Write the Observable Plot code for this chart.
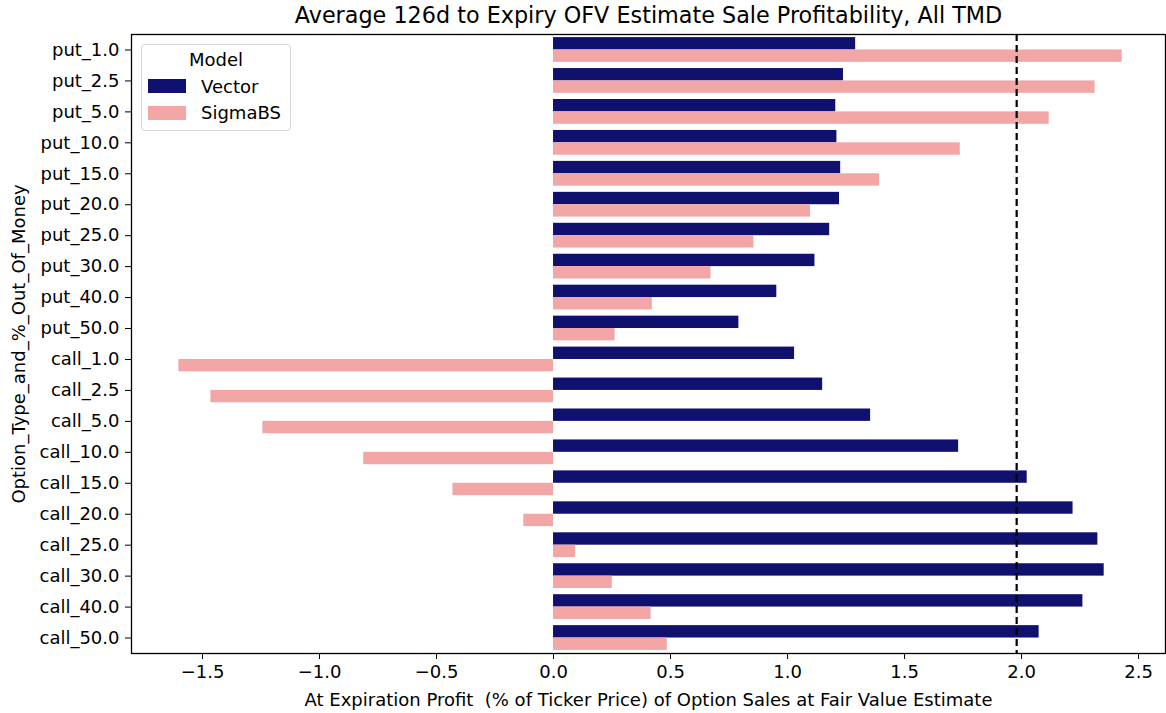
<!DOCTYPE html>
<html>
<head>
<meta charset="utf-8">
<script src="https://cdn.jsdelivr.net/npm/d3@7"></script>
<script src="https://cdn.jsdelivr.net/npm/@observablehq/plot@0.6"></script>
<style>
  html, body { margin: 0; padding: 0; background: #fff; }
  #wrap { position: relative; width: 1166px; height: 713px; font-family: "DejaVu Sans", sans-serif; }
  #legend { position: absolute; left: 141px; top: 44px; width: 150px; height: 87px; border: 1px solid #d6d6d6; border-radius: 4px; background: rgba(255,255,255,0.8); box-sizing: border-box; font-size: 18px; line-height: 21px; color: #000; }
  #legend .t { position: absolute; left: 0; width: 100%; text-align: center; top: 4px; }
  #legend .sw { position: absolute; left: 6px; width: 38px; height: 13.5px; }
  #legend .lb { position: absolute; left: 59px; }
</style>
</head>
<body>
<div id="wrap"></div>
<script>
const categories = ["put_1.0","put_2.5","put_5.0","put_10.0","put_15.0","put_20.0","put_25.0","put_30.0","put_40.0","put_50.0",
  "call_1.0","call_2.5","call_5.0","call_10.0","call_15.0","call_20.0","call_25.0","call_30.0","call_40.0","call_50.0"];
const vectorValues = [1.291,1.239,1.206,1.211,1.227,1.222,1.180,1.117,0.954,0.792,
  1.030,1.150,1.355,1.731,2.024,2.220,2.326,2.353,2.262,2.075];
const sigmaBSValues = [2.430,2.314,2.118,1.738,1.393,1.098,0.856,0.673,0.422,0.263,
  -1.601,-1.464,-1.242,-0.811,-0.430,-0.127,0.094,0.251,0.417,0.486];
const models = ["Vector","SigmaBS"];
const modelColors = ["#10106e","#f2a6a6"];
const xTicks = [-1.5,-1.0,-0.5,0.0,0.5,1.0,1.5,2.0,2.5];
const referenceLine = [1.979];
const title = "Average 126d to Expiry OFV Estimate Sale Profitability, All TMD";
const xLabel = "At Expiration Profit  (% of Ticker Price) of Option Sales at Fair Value Estimate";
const yLabel = "Option_Type_and_%_Out_Of_Money";

const W = 1166, H = 713, mT = 34, mB = 60, mL = 131, mR = 1;
const step = (H - mT - mB) / categories.length;
const half = step * 0.8 / 2;

const rows = categories.map((c, i) => ({category: c, Vector: vectorValues[i], SigmaBS: sigmaBSValues[i]}));

const chart = Plot.plot({
  width: W, height: H,
  marginTop: mT, marginBottom: mB, marginLeft: mL, marginRight: mR,
  style: {fontFamily: "DejaVu Sans, sans-serif", fontSize: "18px", color: "#000", background: "#fff"},
  x: {domain: [-1.8034, 2.615], ticks: xTicks, tickFormat: d3.format(".1f")},
  y: {domain: categories, paddingInner: 0.2, paddingOuter: 0.1, round: false},
  color: {domain: models, range: modelColors},
  marks: [
    Plot.barX(rows, {y: "category", x: "Vector", fill: modelColors[0], insetBottom: half, insetTop: 0}),
    Plot.barX(rows, {y: "category", x: "SigmaBS", fill: modelColors[1], insetTop: half, insetBottom: 0}),
    Plot.ruleX(referenceLine, {stroke: "#000", strokeWidth: 2.2, strokeDasharray: "7,4"}),
    Plot.frame({stroke: "#000", strokeWidth: 1.3}),
    Plot.axisX({ticks: xTicks, tickFormat: d3.format(".1f"), tickSize: 6, tickPadding: 6, fontSize: 18,
      label: xLabel, labelAnchor: "center", labelOffset: 52, labelArrow: "none"}),
    Plot.axisY({tickSize: 6, tickPadding: 6, fontSize: 18, label: null}),
    Plot.text([yLabel], {frameAnchor: "left", dx: -112, rotate: -90, textAnchor: "middle", lineAnchor: "middle", fontSize: 18, fill: "#000"}),
    Plot.text([title], {frameAnchor: "top", dy: -19, textAnchor: "middle", lineAnchor: "middle", fontSize: 22.3, fill: "#000"})
  ]
});

const wrap = document.getElementById("wrap");
wrap.appendChild(chart);

const legend = document.createElement("div");
legend.id = "legend";
legend.innerHTML = `<div class="t">Model</div>` + models.map((m, i) =>
  `<div class="sw" style="top:${34 + i * 27}px;background:${modelColors[i]}"></div><div class="lb" style="top:${31 + i * 26}px">${m}</div>`).join("");
wrap.appendChild(legend);
</script>
</body>
</html>
